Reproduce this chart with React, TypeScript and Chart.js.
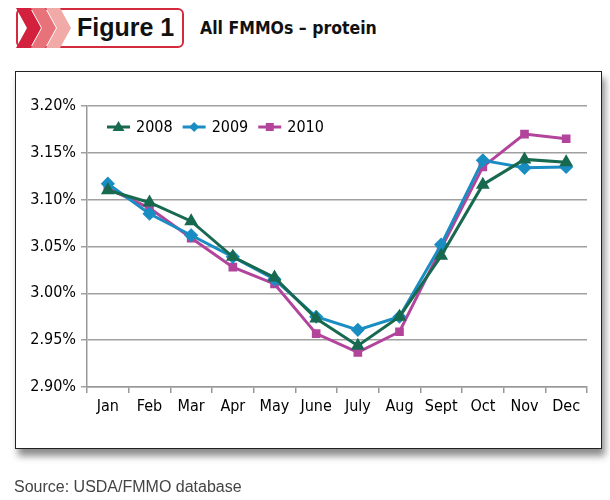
import React, { useEffect, useRef } from "react";
import { Chart, registerables } from "chart.js";

Chart.register(...registerables);

const months = ["Jan", "Feb", "Mar", "Apr", "May", "June", "July", "Aug", "Sept", "Oct", "Nov", "Dec"];
const series2008 = [3.110, 3.097, 3.077, 3.039, 3.017, 2.973, 2.944, 2.975, 3.040, 3.116, 3.143, 3.140];
const series2009 = [3.117, 3.085, 3.062, 3.039, 3.015, 2.975, 2.961, 2.975, 3.052, 3.142, 3.134, 3.135];
const series2010 = [3.112, 3.091, 3.059, 3.028, 3.010, 2.957, 2.937, 2.959, 3.048, 3.135, 3.170, 3.165];
const seriesNames = ["2008", "2009", "2010"];
const yMin = 2.9;
const yMax = 3.2;
const yStep = 0.05;

const FONT = "'Liberation Sans Narrow', 'DejaVu Sans Condensed', 'Liberation Sans', Arial, sans-serif";
const GREEN = "#17694f";
const BLUE = "#1a8dc2";
const MAGENTA = "#b2449c";

const legendPlugin = {
  id: "insideLegend",
  afterDraw(chart: any) {
    const ctx = chart.ctx;
    const area = chart.chartArea;
    let x = area.left + 20;
    const y = area.top + 21;
    ctx.save();
    ctx.font = "16px " + FONT;
    ctx.textBaseline = "middle";
    chart.data.datasets.forEach((ds: any) => {
      ctx.strokeStyle = ds.borderColor;
      ctx.lineWidth = 3;
      ctx.beginPath();
      ctx.moveTo(x, y);
      ctx.lineTo(x + 23, y);
      ctx.stroke();
      ctx.fillStyle = ds.borderColor;
      const cx = x + 11.5;
      const r = ds.pointRadius;
      ctx.beginPath();
      if (ds.pointStyle === "triangle") {
        ctx.moveTo(cx, y - r - 1);
        ctx.lineTo(cx + r + 1, y + r - 1);
        ctx.lineTo(cx - r - 1, y + r - 1);
      } else if (ds.pointStyle === "rectRot") {
        ctx.moveTo(cx, y - r);
        ctx.lineTo(cx + r, y);
        ctx.lineTo(cx, y + r);
        ctx.lineTo(cx - r, y);
      } else {
        ctx.rect(cx - r, y - r, 2 * r, 2 * r);
      }
      ctx.closePath();
      ctx.fill();
      ctx.fillStyle = "#000";
      ctx.textAlign = "left";
      ctx.fillText(ds.label, x + 29, y + 1);
      const w = ctx.measureText(ds.label).width;
      x += 29 + w + 10;
    });
    ctx.restore();
  },
};

function ChartCanvas() {
  const ref = useRef<HTMLCanvasElement>(null);
  useEffect(() => {
    if (!ref.current) return;
    const mk = (label: string, data: number[], color: string, style: string, radius: number) => ({
      label,
      data,
      borderColor: color,
      backgroundColor: color,
      pointBackgroundColor: color,
      pointBorderColor: color,
      pointStyle: style,
      pointRadius: radius,
      borderWidth: 3,
      tension: 0,
    });
    const chart = new Chart(ref.current, {
      type: "line",
      data: {
        labels: months,
        datasets: [
          mk(seriesNames[0], series2008, GREEN, "triangle", 5),
          mk(seriesNames[1], series2009, BLUE, "rectRot", 5),
          mk(seriesNames[2], series2010, MAGENTA, "rect", 4),
        ],
      },
      options: {
        animation: false,
        responsive: false,
        layout: { padding: { left: 27, right: 23, top: 106, bottom: 73 } },
        plugins: { legend: { display: false }, tooltip: { enabled: false } },
        scales: {
          x: {
            offset: true,
            grid: { offset: true, drawOnChartArea: false, drawTicks: true, tickLength: 6, color: "#999", lineWidth: 1.5 },
            border: { color: "#999", width: 1.5 },
            ticks: { color: "#000", font: { family: FONT, size: 16 }, padding: 4, maxRotation: 0, autoSkip: false },
            afterFit: (s: any) => { s.height = 40; },
          },
          y: {
            min: yMin,
            max: yMax,
            grid: { color: "#a0a0a0", lineWidth: 1.5, drawTicks: true, tickLength: 6 },
            border: { color: "#999", width: 1.5 },
            ticks: {
              stepSize: yStep,
              color: "#000",
              font: { family: FONT, size: 16 },
              padding: 5,
              callback: (v: any) => Number(v).toFixed(2) + "%",
            },
            afterFit: (s: any) => { s.width = 60; },
          },
        },
      },
      plugins: [legendPlugin],
    } as any);
    return () => chart.destroy();
  }, []);
  return <canvas ref={ref} width={610} height={500} style={{ position: "absolute", left: 0, top: 0 }} />;
}

export default function App() {
  const chevrons = [0, 1, 2];
  const chevColors = ["#d3203d", "#e8727a", "#f2aaa8"];
  return (
    <div style={{ position: "absolute", left: 0, top: 0, width: 610, height: 500, background: "#fff", overflow: "hidden", fontFamily: FONT }}>
      <div style={{ position: "absolute", left: 16, top: 8, width: 164, height: 36, border: "2px solid #d32a40", borderRadius: 6, background: "#fff" }} />
      <svg width={100} height={60} style={{ position: "absolute", left: 0, top: 0 }}>
        {chevrons.map((i) => {
          const x0 = 16 + i * 15;
          const pts = `${x0},8 ${x0 + 14},8 ${x0 + 25},28 ${x0 + 14},48 ${x0},48 ${x0 + 11},28`;
          return <polygon key={i} points={pts} fill={chevColors[i]} />;
        }).reverse()}
      </svg>
      <div style={{ position: "absolute", left: 77, top: 12, fontFamily: "'Liberation Sans', Arial, sans-serif", fontWeight: "bold", fontSize: 25, color: "#111", lineHeight: "30px" }}>Figure 1</div>
      <div style={{ position: "absolute", left: 200, top: 17, fontFamily: FONT, fontWeight: "bold", fontSize: 17.5, color: "#111", lineHeight: "22px" }}>All FMMOs – protein</div>
      <div style={{ position: "absolute", left: 15, top: 71, width: 587, height: 378, boxSizing: "border-box", border: "1.5px solid #222", boxShadow: "3px 7px 7px rgba(0,0,0,0.45)", background: "#fff" }} />
      <ChartCanvas />
      <div style={{ position: "absolute", left: 14, top: 477, fontFamily: "'Liberation Sans', Arial, sans-serif", fontSize: 16, color: "#444", lineHeight: "20px" }}>Source: USDA/FMMO database</div>
    </div>
  );
}
